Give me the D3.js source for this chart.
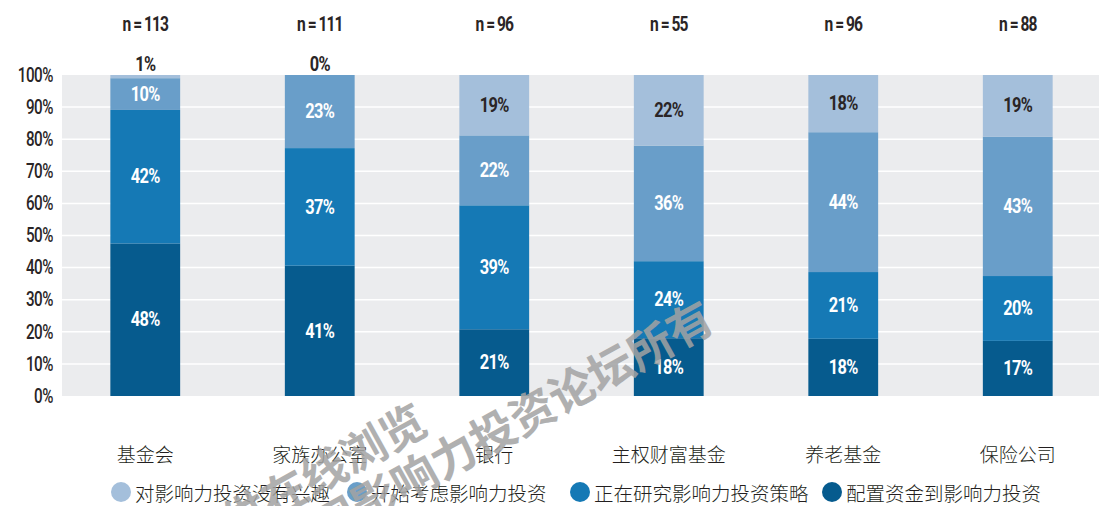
<!DOCTYPE html>
<html><head><meta charset="utf-8">
<script src="https://cdn.jsdelivr.net/npm/d3@7"></script>
<style>
html,body{margin:0;padding:0;background:#fff;}
svg{display:block;}
.num{font-family:Roboto,"Liberation Sans",sans-serif;}
.cjk{font-family:"Noto Sans CJK SC","Noto Sans CJK JP",sans-serif;}
</style></head><body>
<svg id="c" width="1099" height="506"></svg>
<script>
const categories = ["基金会","家族办公室","银行","主权财富基金","养老基金","保险公司"];
const sampleSizes = ["n = 113","n = 111","n = 96","n = 55","n = 96","n = 88"];
const seriesNames = ["配置资金到影响力投资","正在研究影响力投资策略","开始考虑影响力投资","对影响力投资没有兴趣"];
const allocating = [48,41,21,18,18,17];
const researching = [42,37,39,24,21,20];
const considering = [10,23,22,36,44,43];
const notInterested = [1,0,19,22,18,19];
const yTicks = [0,0.1,0.2,0.3,0.4,0.5,0.6,0.7,0.8,0.9,1.0];
const legendOrder = ["对影响力投资没有兴趣","开始考虑影响力投资","正在研究影响力投资策略","配置资金到影响力投资"];
const watermarkLines = ["仅供在线浏览","版权为中国影响力投资论坛所有"];

const colors = {"配置资金到影响力投资":"#065b8e","正在研究影响力投资策略":"#1579b5","开始考虑影响力投资":"#699ec9","对影响力投资没有兴趣":"#a4bfdb"};
const SQ = 0.78;

const svg = d3.select("#c");
const plot = {left:62, right:1099, top:75, bottom:396};

const x = d3.scaleBand().domain(categories).range([58,1105]).paddingInner(0.6).paddingOuter(0.3);
const y = d3.scaleLinear().domain([0,1]).range([plot.bottom, plot.top]);

svg.append("rect").attr("x",plot.left).attr("y",plot.top)
  .attr("width",plot.right-plot.left).attr("height",plot.bottom-plot.top).attr("fill","#ebecee");
svg.append("g").selectAll("line").data(yTicks.slice(1,-1)).join("line")
  .attr("x1",plot.left).attr("x2",plot.right)
  .attr("y1",d=>y(d)).attr("y2",d=>y(d))
  .attr("stroke","#fff").attr("stroke-width",1.5);

const yAxis = d3.axisLeft(y).tickValues(yTicks).tickFormat(d3.format(".0%")).tickSize(0).tickPadding(0);
const ga = svg.append("g").attr("transform",`translate(53,0)`).call(yAxis);
ga.select(".domain").remove();
ga.selectAll("text").attr("class","num").attr("font-size",19.5).attr("font-weight",500).attr("fill","#2a2526")
  .attr("letter-spacing",-0.6).attr("transform",`scale(${SQ},1)`);

const table = categories.map((c,i)=>({cat:c,
  "配置资金到影响力投资":allocating[i],
  "正在研究影响力投资策略":researching[i],
  "开始考虑影响力投资":considering[i],
  "对影响力投资没有兴趣":notInterested[i]}));
const stack = d3.stack().keys(seriesNames).offset(d3.stackOffsetExpand);
const layers = stack(table);

const gBars = svg.append("g");
layers.forEach(layer=>{
  gBars.append("g").selectAll("rect").data(layer).join("rect")
    .attr("x",d=>x(d.data.cat)).attr("width",x.bandwidth())
    .attr("y",d=>y(d[1])).attr("height",d=>Math.max(0,y(d[0])-y(d[1])))
    .attr("fill",colors[layer.key]);
});
layers.forEach(layer=>{
  const light = layer.key==="对影响力投资没有兴趣";
  gBars.append("g").selectAll("text").data(layer).join("text")
    .attr("class","num")
    .attr("transform",d=>{
      const v=d.data[layer.key];
      const cx=x(d.data.cat)+x.bandwidth()/2;
      const cy= v<5 ? y(1)-11 : (y(d[0])+y(d[1]))/2;
      return `translate(${cx},${cy}) scale(${SQ},1)`;
    })
    .attr("text-anchor","middle").attr("dominant-baseline","central")
    .attr("font-size",21).attr("font-weight","bold").attr("letter-spacing",-0.8)
    .attr("fill",d=>(light||d.data[layer.key]<5)?"#2a2526":"#ffffff")
    .text(d=>d.data[layer.key]+"%");
});

svg.append("g").selectAll("text").data(categories).join("text")
  .attr("class","num")
  .attr("transform",d=>`translate(${x(d)+x.bandwidth()/2},24) scale(${SQ},1)`)
  .attr("text-anchor","middle").attr("dominant-baseline","central")
  .attr("font-size",20).attr("font-weight","bold").attr("letter-spacing",-1.2).attr("fill","#2a2526")
  .text((d,i)=>sampleSizes[i]);

svg.append("g").selectAll("text").data(categories).join("text")
  .attr("class","cjk")
  .attr("x",d=>x(d)+x.bandwidth()/2).attr("y",453)
  .attr("text-anchor","middle").attr("dominant-baseline","central")
  .attr("font-size",19).attr("font-weight",300).attr("fill","#231f20")
  .text(d=>d);

const legendX = [121,357,580,832];
const lg = svg.append("g");
legendOrder.forEach((k,i)=>{
  lg.append("circle").attr("cx",legendX[i]).attr("cy",492).attr("r",10).attr("fill",colors[k]);
  lg.append("text").attr("class","cjk").attr("x",legendX[i]+14).attr("y",492)
    .attr("dominant-baseline","central").attr("font-size",19.5).attr("font-weight",300)
    .attr("fill","#231f20").text(k);
});

const wm = svg.append("g").attr("opacity",0.85);
wm.append("text").attr("class","cjk").attr("transform","translate(421,414) rotate(-29)")
  .attr("text-anchor","end").attr("dominant-baseline","central")
  .attr("font-size",45).attr("font-weight",700).attr("fill","#a3a3a3").text(watermarkLines[0]);
wm.append("text").attr("class","cjk").attr("transform","translate(708,311) rotate(-29)")
  .attr("text-anchor","end").attr("dominant-baseline","central")
  .attr("font-size",45).attr("font-weight",700).attr("fill","#a3a3a3").text(watermarkLines[1]);
</script>
</body></html>
